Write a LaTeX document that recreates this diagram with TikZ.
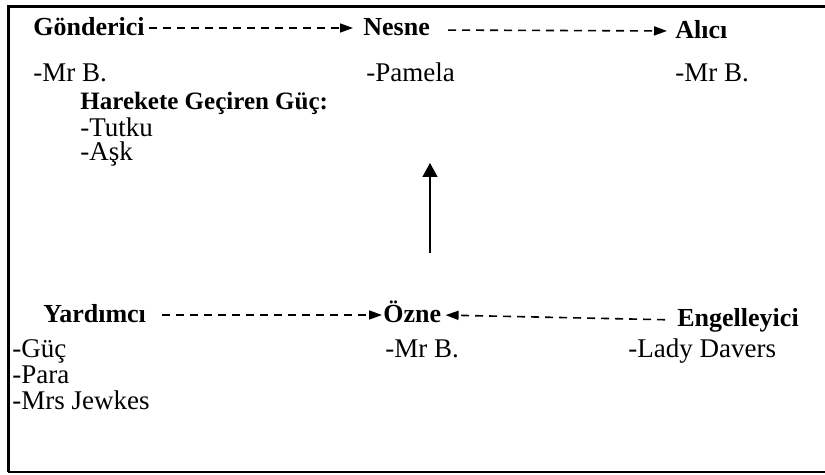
\documentclass[tikz,border=0pt]{standalone}
\usepackage{fontspec}
\setmainfont{Liberation Serif}
\usetikzlibrary{arrows.meta}

\begin{document}
\begin{tikzpicture}[x=0.5pt,y=-0.5pt,
  every node/.style={anchor=base west,inner sep=0pt,font=\fontsize{13.5}{16}\selectfont},
  head/.style={font=\fontsize{13}{16}\selectfont\bfseries},
  dasharrow/.style={->,>={Triangle[length=6.5pt,width=4.5pt]},dash pattern=on 4pt off 3pt,line width=0.8pt}]
\useasboundingbox (0,0) rectangle (825,475);
\draw[line width=1.5pt] (825,7) -- (8,7) -- (8,472);
\draw[line width=1pt] (8,472) -- (825,472);
% top row
\node[head] (gon) at (33,36) {Gönderici};
\node[head] (nes) at (363,36) {Nesne};
\node[head] (alc) at (675,39) {Alıcı};
\node (gonmr) at (33,82) {-Mr B.};
\node (nespam) at (366,82) {-Pamela};
\node (alcmr) at (675,82) {-Mr B.};
\node[font=\fontsize{12.5}{15}\selectfont\bfseries] (guc) at (80,110) {Harekete Geçiren Güç:};
\node (tutku) at (80,137) {-Tutku};
\node (ask) at (80,161) {-Aşk};
\draw[dasharrow,shorten <=2pt,shorten >=5pt] ([yshift=4pt]gon.base east) -- ([yshift=4pt]nes.base west);
\draw[dasharrow,shorten <=9pt,shorten >=4pt] ([yshift=3pt]nes.base east) -- ([yshift=4pt]alc.base west);
% bottom row
\node[head] (yar) at (43,323) {Yardımcı};
\node[head] (ozn) at (383,323) {Özne};
\node[head] (eng) at (677,327) {Engelleyici};
\node (yargu) at (12,358) {-Güç};
\node (yarpa) at (12,384) {-Para};
\node (yarje) at (12,410) {-Mrs Jewkes};
\node (oznmr) at (385,358) {-Mr B.};
\node (engla) at (628,358) {-Lady Davers};
\draw[dasharrow,shorten <=8pt,shorten >=0.5pt] ([yshift=4pt]yar.base east) -- ([yshift=4pt]ozn.base west);
\draw[dasharrow,shorten <=6pt,shorten >=2pt] ([yshift=3.5pt]eng.base west) -- ([yshift=4pt]ozn.base east);
% vertical arrow
\coordinate (up0) at (430,253);
\coordinate (up1) at (430,163);
\draw[-{Triangle[length=7pt,width=7.5pt]},line width=0.8pt] (up0) -- (up1);
\end{tikzpicture}
\end{document}
